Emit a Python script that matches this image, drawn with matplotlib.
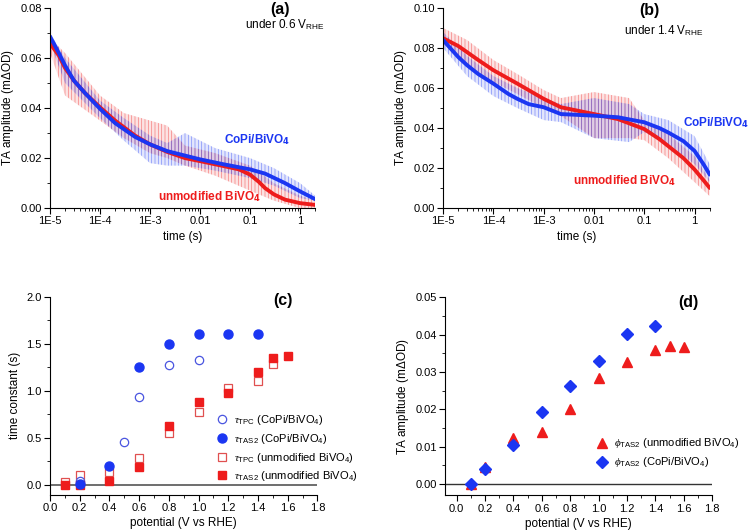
import matplotlib
matplotlib.use("Agg")
from matplotlib import pyplot as plt
from matplotlib.colors import to_rgba
from matplotlib.ticker import MultipleLocator, FixedLocator, FixedFormatter, LogLocator, NullFormatter

plt.rcParams['font.family'] = ['Liberation Sans', 'DejaVu Sans']
plt.rcParams['mathtext.fontset'] = 'custom'
plt.rcParams['mathtext.rm'] = 'Liberation Sans'
plt.rcParams['mathtext.it'] = 'Liberation Serif:italic'
plt.rcParams['hatch.linewidth'] = 0.5

BLUE = '#1b36f2'
RED = '#ee1c1c'

# ---- panel (a): 0.6 V_RHE ----
a_t_blue = [1e-5, 1.5e-5, 2e-5, 3e-5, 5e-5, 1e-4, 2e-4, 5e-4, 1e-3, 2.2e-3, 5e-3, 0.01, 0.03, 0.1, 0.2, 0.5, 1, 2]
a_blue_fit = [0.0686, 0.062, 0.057, 0.051, 0.046, 0.0397, 0.034, 0.0285, 0.0255, 0.0228, 0.021, 0.0195, 0.0175,
              0.0155, 0.0138, 0.0100, 0.0067, 0.0036]
a_t_red = [1e-5, 1.5e-5, 2e-5, 3e-5, 5e-5, 1e-4, 2e-4, 5e-4, 1e-3, 2.2e-3, 5e-3, 0.01, 0.03, 0.06, 0.1, 0.15,
           0.2, 0.3, 0.5, 1, 2]
a_red_fit = [0.0659, 0.061, 0.056, 0.051, 0.046, 0.0403, 0.035, 0.029, 0.0255, 0.0225, 0.020, 0.0188, 0.0168,
             0.0155, 0.0134, 0.0105, 0.0080, 0.0055, 0.0034, 0.0020, 0.0013]
a_t_noise = [1e-5, 2e-5, 1e-4, 3e-4, 1e-3, 2.2e-3, 5e-3, 0.02, 0.1, 0.3, 1, 2]
a_red_lo = [0.062, 0.045, 0.035, 0.028, 0.022, 0.020, 0.017, 0.013, 0.007, 0.003, 0.000, 0.000]
a_red_hi = [0.068, 0.062, 0.045, 0.038, 0.035, 0.033, 0.025, 0.022, 0.017, 0.010, 0.005, 0.003]
a_blue_lo = [0.066, 0.050, 0.036, 0.027, 0.018, 0.017, 0.017, 0.015, 0.012, 0.009, 0.004, 0.003]
a_blue_hi = [0.070, 0.060, 0.043, 0.036, 0.029, 0.026, 0.030, 0.024, 0.020, 0.016, 0.010, 0.005]

# ---- panel (b): 1.4 V_RHE ----
b_t_blue = [1e-5, 1.5e-5, 2e-5, 3e-5, 5e-5, 1e-4, 2e-4, 3e-4, 5e-4, 1e-3, 2.2e-3, 0.01, 0.03, 0.1, 0.2, 0.3,
            0.6, 1, 1.5, 2]
b_blue_fit = [0.084, 0.079, 0.0755, 0.0714, 0.067, 0.0622, 0.057, 0.0546, 0.052, 0.0504, 0.047, 0.0462, 0.0454,
              0.0429, 0.040, 0.0378, 0.0335, 0.0286, 0.022, 0.0168]
b_t_red = [1e-5, 2e-5, 5e-5, 1e-4, 3e-4, 1e-3, 2.2e-3, 0.01, 0.03, 0.1, 0.2, 0.3, 0.6, 1, 1.5, 2]
b_red_fit = [0.0849, 0.081, 0.074, 0.0689, 0.0622, 0.0546, 0.0504, 0.047, 0.0445, 0.0395, 0.0345, 0.031, 0.025,
             0.0193, 0.014, 0.0101]
b_t_noise = [1e-5, 3e-5, 1e-4, 3e-4, 1e-3, 2.2e-3, 0.01, 0.05, 0.1, 0.3, 1, 2]
b_blue_lo = [0.080, 0.066, 0.056, 0.050, 0.044, 0.043, 0.035, 0.033, 0.038, 0.032, 0.022, 0.013]
b_blue_hi = [0.088, 0.076, 0.066, 0.060, 0.055, 0.052, 0.055, 0.052, 0.047, 0.044, 0.036, 0.022]
b_red_lo = [0.082, 0.072, 0.063, 0.057, 0.050, 0.046, 0.035, 0.035, 0.034, 0.025, 0.013, 0.006]
b_red_hi = [0.090, 0.084, 0.074, 0.067, 0.059, 0.055, 0.058, 0.055, 0.044, 0.037, 0.026, 0.014]

time_ticks = [1e-5, 1e-4, 1e-3, 0.01, 0.1, 1]
time_labels = ['1E-5', '1E-4', '1E-3', '0.01', '0.1', '1']

# ---- panel (c): time constants ----
c_tpc_copi_x = [0.2, 0.5, 0.6, 0.8, 1.0]
c_tpc_copi_y = [0.04, 0.46, 0.93, 1.27, 1.33]
c_tas_copi_x = [0.2, 0.4, 0.6, 0.8, 1.0, 1.2, 1.4]
c_tas_copi_y = [0.01, 0.20, 1.25, 1.50, 1.60, 1.60, 1.60]
c_tpc_bvo_x = [0.1, 0.2, 0.4, 0.6, 0.8, 1.0, 1.2, 1.4, 1.5]
c_tpc_bvo_y = [0.03, 0.10, 0.14, 0.29, 0.55, 0.77, 1.03, 1.10, 1.29]
c_tas_bvo_x = [0.1, 0.2, 0.4, 0.6, 0.8, 1.0, 1.2, 1.4, 1.5, 1.6]
c_tas_bvo_y = [0.0, 0.0, 0.04, 0.19, 0.63, 0.88, 0.98, 1.20, 1.35, 1.37]

# ---- panel (d): amplitudes ----
d_bvo_x = [0.1, 0.2, 0.4, 0.6, 0.8, 1.0, 1.2, 1.4, 1.5, 1.6]
d_bvo_y = [0.0, 0.0045, 0.0124, 0.014, 0.020, 0.0284, 0.0327, 0.036, 0.0369, 0.0367]
d_copi_x = [0.1, 0.2, 0.4, 0.6, 0.8, 1.0, 1.2, 1.4]
d_copi_y = [0.0, 0.004, 0.0103, 0.0193, 0.0262, 0.033, 0.0403, 0.0424]

TICK_FS = 8
LABEL_FS = 8.5


def style(ax):
    for s in ['top', 'right']:
        ax.spines[s].set_visible(False)
    for s in ['left', 'bottom']:
        ax.spines[s].set_linewidth(0.8)
    ax.tick_params(which='major', direction='out', length=4, width=0.8, labelsize=TICK_FS, pad=2)
    ax.tick_params(which='minor', direction='out', length=2, width=0.6)


def noise(ax, t, lo, hi, color):
    ax.fill_between(t, lo, hi, facecolor=to_rgba(color, 0.12), edgecolor=to_rgba(color, 0.5),
                    hatch='|||||', lw=0)


fig = plt.figure(figsize=(7.51, 5.31), dpi=100)
ax_a = fig.add_axes([0.0666, 0.608, 0.353, 0.377])
ax_b = fig.add_axes([0.590, 0.608, 0.355, 0.377])
ax_c = fig.add_axes([0.0666, 0.068, 0.356, 0.373])
ax_d = fig.add_axes([0.5925, 0.067, 0.356, 0.373])

# time-resolved panels
for ax, tb, bf, tr, rf, tn, blo, bhi, rlo, rhi, ymax in [
        (ax_a, a_t_blue, a_blue_fit, a_t_red, a_red_fit, a_t_noise, a_blue_lo, a_blue_hi, a_red_lo, a_red_hi, 0.08),
        (ax_b, b_t_blue, b_blue_fit, b_t_red, b_red_fit, b_t_noise, b_blue_lo, b_blue_hi, b_red_lo, b_red_hi, 0.10)]:
    noise(ax, tn, rlo, rhi, RED)
    noise(ax, tn, blo, bhi, BLUE)
    ax.plot(tr, rf, color=RED, lw=2.8, solid_capstyle='round', solid_joinstyle='round')
    ax.plot(tb, bf, color=BLUE, lw=2.8, solid_capstyle='round', solid_joinstyle='round')
    ax.set_xscale('log')
    ax.set_xlim(1e-5, 2)
    ax.set_ylim(0, ymax)
    ax.xaxis.set_major_locator(FixedLocator(time_ticks))
    ax.xaxis.set_major_formatter(FixedFormatter(time_labels))
    ax.xaxis.set_minor_locator(LogLocator(base=10, subs=range(2, 10)))
    ax.xaxis.set_minor_formatter(NullFormatter())
    ax.yaxis.set_major_locator(MultipleLocator(0.02))
    ax.yaxis.set_minor_locator(MultipleLocator(0.01))
    ax.yaxis.set_major_formatter(plt.FormatStrFormatter('%.2f'))
    ax.set_xlabel('time (s)', fontsize=LABEL_FS, labelpad=3)
    ax.set_ylabel('TA amplitude (m$\\Delta$OD)', fontsize=LABEL_FS, labelpad=3)
    style(ax)

ax_a.text(0.868, 0.99, '(a)', transform=ax_a.transAxes, ha='center', va='center', fontsize=11.5, fontweight='bold')
ax_a.text(0.887, 0.915, 'under 0.6 V$_{\\mathrm{RHE}}$', transform=ax_a.transAxes, ha='center', va='center',
          fontsize=8.5)
ax_a.text(0.78, 0.34, 'CoPi/BiVO$_\\mathbf{4}$', transform=ax_a.transAxes, ha='center', va='center',
          fontsize=8.5, fontweight='bold', color=BLUE)
ax_a.text(0.60, 0.06, 'unmodified BiVO$_\\mathbf{4}$', transform=ax_a.transAxes, ha='center', va='center',
          fontsize=8.5, fontweight='bold', color=RED)

ax_b.text(0.775, 0.985, '(b)', transform=ax_b.transAxes, ha='center', va='center', fontsize=11.5, fontweight='bold')
ax_b.text(0.83, 0.885, 'under 1.4 V$_{\\mathrm{RHE}}$', transform=ax_b.transAxes, ha='center', va='center',
          fontsize=8.5)
fig.text(0.997, 1 - 123 / 531, 'CoPi/BiVO$_\\mathbf{4}$', ha='right', va='center',
         fontsize=8.5, fontweight='bold', color=BLUE)
ax_b.text(0.68, 0.14, 'unmodified BiVO$_\\mathbf{4}$', transform=ax_b.transAxes, ha='center', va='center',
          fontsize=8.5, fontweight='bold', color=RED)

# panel (c)
ax_c.axhline(0, color='#555555', lw=1.2, zorder=1)
ax_c.plot(c_tpc_copi_x, c_tpc_copi_y, 'o', ms=6, mfc='white', mec='#4a55e0', mew=0.9, ls='none',
          label='$\\tau_{\\mathrm{TPC}}$ (CoPi/BiVO$_4$)', zorder=3)
ax_c.plot(c_tas_copi_x, c_tas_copi_y, 'o', ms=6.5, color=BLUE, ls='none',
          label='$\\tau_{\\mathrm{TAS2}}$ (CoPi/BiVO$_4$)', zorder=4)
ax_c.plot(c_tpc_bvo_x, c_tpc_bvo_y, 's', ms=5.5, mfc='white', mec='#e05050', mew=0.9, ls='none',
          label='$\\tau_{\\mathrm{TPC}}$ (unmodified BiVO$_4$)', zorder=2)
ax_c.plot(c_tas_bvo_x, c_tas_bvo_y, 's', ms=5.5, color=RED, ls='none',
          label='$\\tau_{\\mathrm{TAS2}}$ (unmodified BiVO$_4$)', zorder=3)
ax_c.set_xlim(0, 1.8)
ax_c.set_ylim(-0.107, 2.0)
ax_c.xaxis.set_major_locator(MultipleLocator(0.2))
ax_c.xaxis.set_minor_locator(MultipleLocator(0.1))
ax_c.yaxis.set_major_locator(MultipleLocator(0.5))
ax_c.yaxis.set_minor_locator(MultipleLocator(0.25))
ax_c.xaxis.set_major_formatter(plt.FormatStrFormatter('%.1f'))
ax_c.yaxis.set_major_formatter(plt.FormatStrFormatter('%.1f'))
ax_c.set_xlabel('potential (V vs RHE)', fontsize=LABEL_FS, labelpad=3)
ax_c.set_ylabel('time constant (s)', fontsize=LABEL_FS, labelpad=4)
ax_c.text(0.87, 0.98, '(c)', transform=ax_c.transAxes, ha='center', va='center', fontsize=11.5, fontweight='bold')
ax_c.legend(loc='upper left', bbox_to_anchor=(0.60, 0.435), frameon=False, fontsize=8,
            handletextpad=0.5, labelspacing=0.42, borderaxespad=0, handlelength=1.2)
style(ax_c)

# panel (d)
ax_d.axhline(0, color='#333333', lw=1.0, zorder=1)
ax_d.plot(d_bvo_x, d_bvo_y, '^', ms=7, color=RED, ls='none',
          label='$\\phi_{\\mathrm{TAS2}}$ (unmodified BiVO$_4$)', zorder=2)
ax_d.plot(d_copi_x, d_copi_y, 'D', ms=6, color=BLUE, ls='none',
          label='$\\phi_{\\mathrm{TAS2}}$ (CoPi/BiVO$_4$)', zorder=3)
ax_d.set_xlim(-0.082, 1.8)
ax_d.set_ylim(-0.0031, 0.05)
ax_d.xaxis.set_major_locator(MultipleLocator(0.2))
ax_d.xaxis.set_minor_locator(MultipleLocator(0.1))
ax_d.yaxis.set_major_locator(MultipleLocator(0.01))
ax_d.yaxis.set_minor_locator(MultipleLocator(0.005))
ax_d.xaxis.set_major_formatter(plt.FormatStrFormatter('%.1f'))
ax_d.yaxis.set_major_formatter(plt.FormatStrFormatter('%.2f'))
ax_d.set_xlabel('potential (V vs RHE)', fontsize=LABEL_FS, labelpad=3)
ax_d.set_ylabel('TA amplitude (m$\\Delta$OD)', fontsize=LABEL_FS, labelpad=3)
ax_d.text(0.91, 0.975, '(d)', transform=ax_d.transAxes, ha='center', va='center', fontsize=11.5, fontweight='bold')
ax_d.legend(loc='upper left', bbox_to_anchor=(0.545, 0.32), frameon=False, fontsize=8,
            handletextpad=0.5, labelspacing=0.45, borderaxespad=0, handlelength=1.2)
style(ax_d)

fig.savefig('out.png', dpi=100)
